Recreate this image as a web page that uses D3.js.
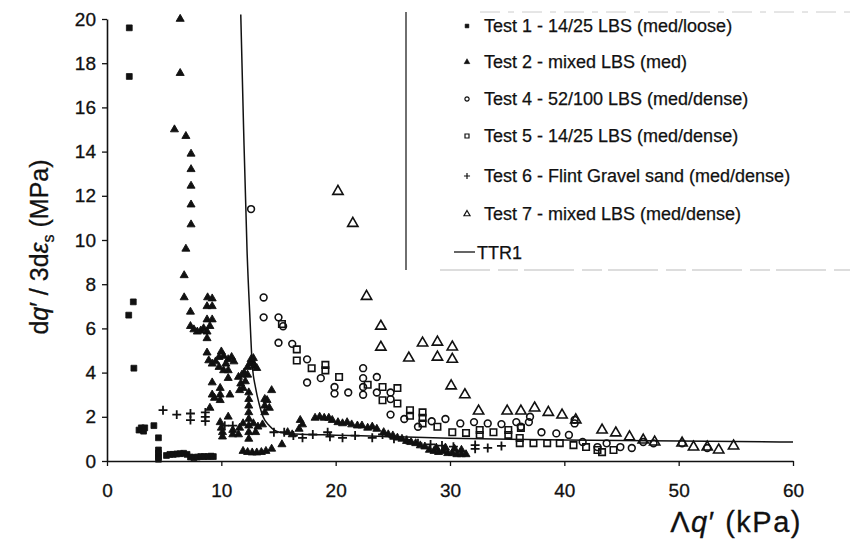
<!DOCTYPE html>
<html><head><meta charset="utf-8">
<script src="https://cdn.jsdelivr.net/npm/d3@7"></script>
<style>body{margin:0;background:#fff}svg{display:block}text{font-family:"Liberation Sans",Arial,sans-serif;fill:#111}</style>
</head><body><svg id="c" width="850" height="546"></svg>
<script>
// ---- data (x = Δq' kPa, y = dq'/3dεs MPa) ----
const xTicks = [0,10,20,30,40,50,60];
const yTicks = [0,2,4,6,8,10,12,14,16,18,20];
const seriesNames = ["Test 1 - 14/25 LBS (med/loose)","Test 2 - mixed LBS (med)","Test 4 - 52/100 LBS (med/dense)","Test 5 - 14/25 LBS (med/dense)","Test 6 - Flint Gravel sand (med/dense)","Test 7 - mixed LBS (med/dense)","TTR1"];
const test1 = [[1.95,19.6],[1.95,17.4],[1.9,6.6],[2.3,7.2],[2.35,4.2],[2.8,1.4],[3.0,1.5],[3.2,1.35],[3.3,1.5],[4.1,1.6],[4.5,1.05],[4.5,0.5],[4.5,0.35],[4.5,0.2],[4.5,0.08],[5.2,0.25],[5.5,0.3],[5.8,0.3],[6.1,0.32],[6.4,0.33],[6.7,0.35],[7.0,0.3],[7.3,0.18],[7.6,0.15],[7.9,0.18],[8.2,0.2],[8.5,0.2],[8.8,0.2],[9.1,0.22],[9.3,0.2]];
const test2 = [[6.4,20],[6.4,17.55],[5.9,15.0],[6.9,14.7],[7.35,13.9],[7.35,13.2],[7.35,12.45],[7.35,11.6],[7.35,10.7],[6.9,9.6],[6.75,8.4],[6.75,7.4],
[7.3,6.75],[8.8,7.4],[8.75,7.0],[9.2,7.0],[9.2,7.35],[8.75,6.4],[9.2,6.4],[7.3,6.1],[7.6,5.95],[7.9,5.85],[8.2,5.9],[8.45,6.0],[8.75,5.85],[9.0,6.1],[8.75,5.55],
[8.75,4.9],[10.0,4.95],[8.9,4.55],[9.2,4.4],[9.5,4.5],[9.8,4.7],[10.2,4.75],[10.6,4.6],[10.9,4.7],[9.8,4.25],[10.2,4.1],[10.6,4.1],[11.1,4.5],[10.4,4.4],
[9.2,3.55],[9.2,3.0],[9.4,2.85],[9.9,3.3],[9.9,3.0],[9.9,2.75],[10.6,3.75],[10.75,3.0],[9.0,2.4],[10.6,2.0],
[11.5,3.8],[11.7,3.5],[11.9,3.3],[12.1,3.6],[11.6,3.2],[12.3,3.9],[12.0,4.0],[11.8,3.9],
[12.3,4.25],[12.5,4.4],[12.7,4.5],[12.9,4.3],[13.1,4.2],[12.6,4.6],[12.8,4.65],
[12.4,3.1],[12.4,2.8],[12.4,2.5],[12.4,2.2],[12.4,1.9],[12.4,1.6],[12.4,1.3],[12.4,1.0],
[9.9,1.75],[10.0,1.5],[10.1,1.3],[10.1,1.1],[11.0,1.4],[11.0,1.2],[11.5,1.2],[11.9,1.7],[12.8,1.7],[13.2,1.55],[13.6,1.65],[11.6,1.5],[13.0,1.3],
[13.8,2.8],[13.8,2.5],[13.8,2.2],[14.4,3.2],[14.0,2.75],[14.2,2.4],
[11.9,0.45],[12.3,0.4],[12.7,0.38],[13.1,0.38],[13.5,0.4],[13.9,0.45],[14.4,0.55],[15.3,0.75],
[15.8,1.3],[16.2,1.2],[16.9,1.85],[17.1,1.65],[16.8,1.45],[18.2,1.95],[18.6,2.0],[19.0,1.95],[19.4,1.95],[19.7,1.85],[20.2,1.75],[20.6,1.7],[21.0,1.75],[21.4,1.65],[21.9,1.6],[22.3,1.6],[22.8,1.5],[23.2,1.55],[23.6,1.45],[24.2,1.3],[24.6,1.2],[25.0,1.15],[25.4,1.05],[25.8,1.0],[26.2,0.9],[26.6,0.85],[27.0,0.8],[27.4,0.7],[27.8,0.65],[28.2,0.5],[28.6,0.45],[29.0,0.4],[29.4,0.45],[29.8,0.35],[30.2,0.35],[30.6,0.3],[31.0,0.3],[31.4,0.3],[28.8,0.6],[29.6,0.6],[30.4,0.55],[31.0,0.5]];
const test4 = [[12.6,11.4],[13.7,7.4],[13.7,6.5],[15.0,6.5],[15.4,6.1],[15.0,5.35],[16.2,5.3],[17.5,4.6],[17.5,3.55],[18.7,3.75],[19.9,3.35],[19.9,3.05],[21.1,3.1],[22.4,4.2],[22.4,3.75],[22.4,3.35],[22.4,3.0],[23.6,3.8],[23.6,3.1],[24.8,3.1],[24.8,2.8],[24.8,2.1],[26.0,1.9],[27.2,1.55],[28.4,1.8],[29.6,1.9],[30.9,1.7],[32.1,1.76],[33.3,1.7],[34.5,1.67],[35.8,1.76],[36.2,1.55],[36.9,1.76],[37.0,2.0],[38.0,1.3],[39.3,1.25],[40.4,1.18],[40.9,1.86],[40.9,1.7],[41.6,0.86],[42.9,0.63],[43.7,0.8],[44.9,0.63],[45.9,0.59],[46.9,0.86],[47.8,0.8],[50.3,0.8],[52.5,0.59]];
const test5 = [[15.3,6.2],[16.6,5.05],[16.6,4.55],[17.9,4.2],[19.1,4.35],[19.1,4.1],[20.3,3.8],[22.8,3.45],[24.1,3.35],[24.1,2.75],[25.4,3.3],[25.4,2.6],[26.5,2.3],[26.5,2.05],[27.6,2.2],[27.6,1.95],[27.6,1.7],[28.9,1.55],[30.2,1.3],[31.4,1.27],[32.6,1.4],[32.6,1.18],[33.8,1.3],[35.1,1.4],[35.1,1.18],[36.2,1.5],[36.1,1.04],[36.1,0.81],[37.3,0.81],[38.5,0.81],[39.6,0.81],[40.8,0.72],[41.9,0.63],[42.9,0.5],[43.3,0.4],[44.3,0.5]];
const test6 = [[4.9,2.3],[6.1,2.1],[7.3,2.15],[7.3,1.85],[8.6,2.2],[8.6,2.0],[8.6,1.8],[10.3,1.6],[11.0,1.6],[14.6,1.3],[15.5,1.3],[16.3,1.15],[17.1,1.05],[18.0,1.2],[19.3,1.3],[19.5,1.1],[20.6,1.05],[21.7,1.15],[23.2,1.05],[24.1,1.2],[25.1,1.0],[26.2,0.95],[27.2,0.8],[28.3,0.75],[29.3,0.7],[30.3,0.65],[32.2,0.72],[32.2,0.55],[33.3,0.59],[34.5,0.68]];
const test7 = [[20.2,12.2],[21.5,10.75],[22.7,7.45],[23.95,6.1],[23.95,5.15],[26.4,4.66],[27.6,5.34],[28.9,5.38],[28.9,4.7],[30.2,5.16],[30.2,4.6],[30.1,3.4],[31.3,3.0],[32.5,2.26],[35.0,2.26],[36.2,2.26],[37.4,2.4],[38.6,2.2],[39.8,2.08],[41.0,1.86],[43.3,1.4],[44.5,1.27],[45.7,1.09],[46.9,0.95],[47.9,0.86],[50.3,0.81],[51.3,0.63],[52.5,0.63],[53.5,0.5],[54.8,0.68]];
const ttr1 = [[11.7,20.2],[11.95,15],[12.25,9.5],[12.5,6.5],[12.7,4.4],[13.0,3.3],[13.3,2.6],[13.65,2.0],[14.2,1.6],[15.1,1.3],[16.5,1.22],[20,1.17],[25,1.1],[30,1.03],[40,0.95],[50,0.9],[60,0.86]];

const svg = d3.select("#c");
const x = d3.scaleLinear().domain([0,60]).range([107,793]);
const y = d3.scaleLinear().domain([0,20]).range([461,19]);

// axes
const gx = svg.append("g").attr("transform","translate(0,461)")
  .call(d3.axisBottom(x).tickValues(xTicks).tickSize(5).tickSizeOuter(0).tickPadding(18));
const gy = svg.append("g").attr("transform","translate(107,0)")
  .call(d3.axisLeft(y).tickValues(yTicks).tickSize(5).tickSizeOuter(0).tickPadding(6));
[gx,gy].forEach(g=>{
  g.select(".domain").attr("stroke","#111").attr("stroke-width",1.6);
  g.selectAll(".tick line").attr("stroke","#111").attr("stroke-width",1.3);
  g.selectAll(".tick text").style("font-size","19px").style("font-family","'Liberation Sans',Arial,sans-serif")
    .attr("fill","#111").attr("stroke","#111").attr("stroke-width",0.3);
});

// TTR1 line
svg.append("path").datum(ttr1)
  .attr("d", d3.line().x(d=>x(d[0])).y(d=>y(d[1])).curve(d3.curveMonotoneX))
  .attr("fill","none").attr("stroke","#111").attr("stroke-width",1.5);

function plot(data, type, size, filled, sw){
  const sym = d3.symbol().type(type).size(size);
  svg.append("g").selectAll("path").data(data).join("path")
    .attr("transform", d=>`translate(${x(d[0])},${y(d[1])})`)
    .attr("d", sym)
    .attr("fill", filled ? "#111" : "none")
    .attr("stroke", "#111").attr("stroke-width", sw);
}
plot(test1, d3.symbolSquare, 34, true, 0.8);
plot(test2, d3.symbolTriangle, 28, true, 0.9);
plot(test4, d3.symbolCircle, 36, false, 1.6);
plot(test5, d3.symbolSquare, 42, false, 1.6);
plot(test6, d3.symbolPlus, 28, false, 1.8);
plot(test7, d3.symbolTriangle, 46, false, 1.6);

// legend box
svg.append("line").attr("x1",406).attr("x2",406).attr("y1",12).attr("y2",270).attr("stroke","#222").attr("stroke-width",1.3);
svg.append("line").attr("x1",440).attr("x2",850).attr("y1",270).attr("y2",270).attr("stroke","#bbb").attr("stroke-width",1).attr("stroke-dasharray","50,8,20,6");
svg.append("line").attr("x1",480).attr("x2",850).attr("y1",12).attr("y2",12).attr("stroke","#ccc").attr("stroke-width",1).attr("stroke-dasharray","20,8,6,8");

const legY = [25,61,98,135,175,213,252];
const legTypes = [[d3.symbolSquare,14,true],[d3.symbolTriangle,14,true],[d3.symbolCircle,14,false],[d3.symbolSquare,16,false],[d3.symbolPlus,14,false],[d3.symbolTriangle,16,false]];
legTypes.forEach((t,i)=>{
  svg.append("path").attr("transform",`translate(467,${legY[i]+1})`)
    .attr("d", d3.symbol().type(t[0]).size(t[1]))
    .attr("fill", t[2] ? "#111" : "none").attr("stroke","#111").attr("stroke-width", t[2]?0.6:1.2);
  svg.append("text").attr("x",484).attr("y",legY[i]+7).style("font-size","18px")
    .attr("stroke","#111").attr("stroke-width",0.25).text(seriesNames[i]);
});
svg.append("line").attr("x1",454).attr("x2",475).attr("y1",legY[6]).attr("y2",legY[6]).attr("stroke","#111").attr("stroke-width",1.3);
svg.append("text").attr("x",477).attr("y",legY[6]+7).style("font-size","18px")
  .attr("stroke","#111").attr("stroke-width",0.25).text(seriesNames[6]);

// axis titles
const yt = svg.append("text").attr("transform","translate(48,247) rotate(-90)").attr("text-anchor","middle")
  .style("font-size","25px").attr("stroke","#111").attr("stroke-width",0.3);
yt.append("tspan").text("d");
yt.append("tspan").style("font-style","italic").text("q");
yt.append("tspan").text("′ / 3d");
yt.append("tspan").style("font-style","italic").text("ε");
yt.append("tspan").attr("dy",6).style("font-size","16px").text("s");
yt.append("tspan").attr("dy",-6).text(" (MPa)");

const xt = svg.append("text").attr("x",802).attr("y",532).attr("text-anchor","end")
  .style("font-size","29px").style("letter-spacing","1.5px").attr("stroke","#111").attr("stroke-width",0.3);
xt.append("tspan").text("Λ");
xt.append("tspan").style("font-style","italic").text("q");
xt.append("tspan").text("′ (kPa)");
</script></body></html>
